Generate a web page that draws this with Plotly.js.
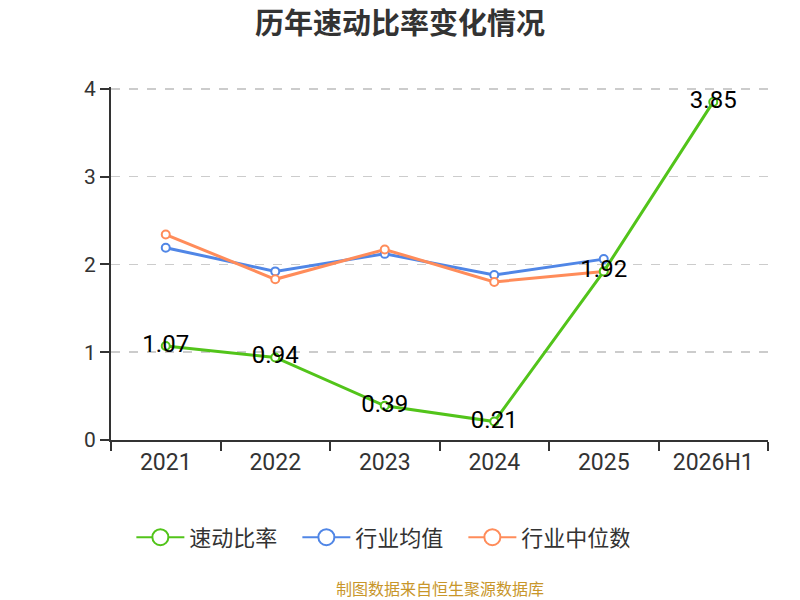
<!DOCTYPE html>
<html><head><meta charset="utf-8">
<script src="https://cdn.plot.ly/plotly-3.0.1.min.js"></script>
<style>html,body{margin:0;padding:0;background:#fff}#c{width:800px;height:600px}</style>
</head><body><div id="c"></div>
<script>
const categories = ['2021','2022','2023','2024','2025','2026H1'];
const quickRatio = [1.07, 0.94, 0.39, 0.21, 1.92, 3.85];
const industryAvg = [2.19, 1.92, 2.12, 1.88, 2.06, null];
const industryMedian = [2.34, 1.83, 2.17, 1.80, 1.92, null];
const quickLabels = ['1.07','0.94','0.39','0.21','1.92','3.85'];
const seriesNames = ['速动比率','行业均值','行业中位数'];
const seriesColors = ['#52c41a','#5086e6','#ff8c5a'];

const font = 'Roboto, "Noto Sans CJK SC", sans-serif';
const cjk = '"Noto Sans CJK SC", Roboto, sans-serif';
function mk(name, y, color, extra) {
  return Object.assign({
    type: 'scatter', mode: 'lines+markers', name: name, x: categories, y: y,
    line: {color: color, width: 3},
    marker: {symbol: 'circle', size: 8, color: '#fff', line: {color: color, width: 2}},
    hoverinfo: 'skip', showlegend: false
  }, extra || {});
}
function lg(name, color) {
  return {type: 'scatter', mode: 'lines+markers', name: name, x: [categories[0]], y: [null],
    line: {color: color, width: 2},
    marker: {symbol: 'circle', size: 16, color: '#fff', line: {color: color, width: 2}},
    showlegend: true, hoverinfo: 'skip'};
}
const traces = [
  mk(seriesNames[1], industryAvg, seriesColors[1]),
  mk(seriesNames[2], industryMedian, seriesColors[2]),
  mk(seriesNames[0], quickRatio, seriesColors[0], {mode: 'lines+markers+text', text: quickLabels, textposition: 'middle center', textfont: {size: 24, color: '#000', family: font}}),
  lg(seriesNames[0], seriesColors[0]),
  lg(seriesNames[1], seriesColors[1]),
  lg(seriesNames[2], seriesColors[2])
];
const layout = {
  width: 800, height: 600,
  margin: {l: 111, r: 32, t: 87, b: 160},
  paper_bgcolor: '#fff', plot_bgcolor: '#fff',
  font: {family: font, color: '#333'},
  title: {text: '<b>历年速动比率变化情况</b>', x: 0.5, xanchor: 'center', y: 0.96, yanchor: 'middle', font: {size: 29, color: '#333', family: cjk}},
  xaxis: {type: 'category', range: [-0.5, 5.5], tickson: 'boundaries', ticks: 'outside', ticklen: 9, tickcolor: '#333', tickwidth: 2,
    showline: true, linecolor: '#333', linewidth: 2, showgrid: false, tickfont: {size: 23, color: '#333', family: font}, fixedrange: true},
  yaxis: {range: [0, 4.02], tickvals: [0, 1, 2, 3, 4], ticks: 'outside', ticklen: 9, tickcolor: '#333', tickwidth: 2,
    showline: true, linecolor: '#333', linewidth: 2, zeroline: false,
    gridcolor: '#cccccc', griddash: 'dash', gridwidth: 1.5, tickfont: {size: 21, color: '#333', family: font}, fixedrange: true},
  showlegend: true,
  legend: {orientation: 'h', x: 0.41, xanchor: 'center', y: -0.276, yanchor: 'middle', font: {size: 22, color: '#333', family: cjk}, itemsizing: 'trace', traceorder: 'normal', itemwidth: 48, entrywidth: 103, entrywidthmode: 'pixels'},
  annotations: [{text: '制图数据来自恒生聚源数据库', xref: 'paper', yref: 'paper', x: 0.5, y: -0.418, xanchor: 'center', yanchor: 'middle', showarrow: false, font: {size: 16, color: '#c8962a', family: cjk}}]
};
Plotly.newPlot('c', traces, layout, {displayModeBar: false, staticPlot: true});
</script></body></html>
